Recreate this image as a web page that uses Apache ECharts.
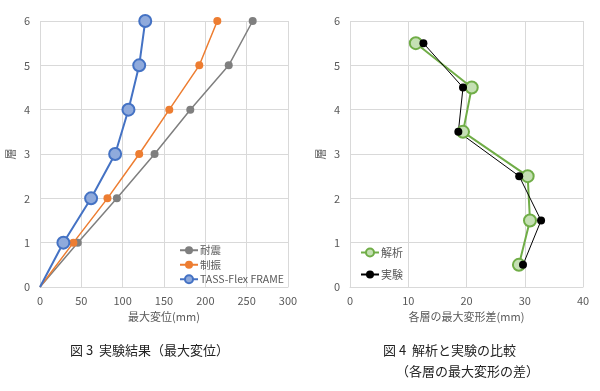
<!DOCTYPE html>
<html><head><meta charset="utf-8">
<script src="https://cdn.jsdelivr.net/npm/echarts@6/dist/echarts.min.js"></script>
<style>html,body{margin:0;padding:0;background:#fff}#c{width:600px;height:391px}</style>
</head><body><div id="c"></div>
<script>
// Fig 3: max displacement per floor
const floors = [0, 1, 2, 3, 4, 5, 6];
const taishin = [0, 45.7, 93, 138.6, 181.8, 228.3, 257.3];   // 耐震
const seishin = [0, 40.4, 81.6, 120, 156.4, 192.7, 214.5];   // 制振
const tass = [0, 28.3, 61.8, 90.9, 107, 120, 127.3];         // TASS-Flex FRAME
// Fig 4: story drift comparison
const storyPos = [0.5, 1.5, 2.5, 3.5, 4.5, 5.5];
const kaiseki = [29.0, 30.9, 30.5, 19.4, 20.9, 11.3];        // 解析
const jikken = [29.7, 32.8, 29.05, 18.6, 19.4, 12.6];        // 実験
const xTicks1 = [0, 50, 100, 150, 200, 250, 300];
const xTicks2 = [0, 10, 20, 30, 40];

// origin point drawn without a marker (line starts at 0,0)
const pair = (xs, ys) => xs.map((v, i) => (v === 0 && ys[i] === 0) ? {value: [v, ys[i]], symbol: 'none'} : [v, ys[i]]);
const font = "'Noto Sans CJK JP', 'Noto Sans', sans-serif";
const tickColor = '#595959';
const gridColor = '#D9D9D9';

const chart = echarts.init(document.getElementById('c'), null, {renderer: 'canvas'});
const xAxisBase = (gi, ticks, name) => ({
  gridIndex: gi, type: 'value', min: ticks[0], max: ticks[ticks.length - 1], interval: ticks[1] - ticks[0],
  name: name, nameLocation: 'middle', nameGap: 20,
  nameTextStyle: {color: tickColor, fontSize: 11, fontFamily: font},
  axisLine: {show: true, lineStyle: {color: gridColor}},
  axisTick: {show: false},
  axisLabel: {color: tickColor, fontSize: 11, fontFamily: font, margin: 8},
  splitLine: {show: true, lineStyle: {color: gridColor}}
});
const yAxisBase = (gi) => ({
  gridIndex: gi, type: 'value', min: 0, max: 6, interval: 1,
  name: '層', nameLocation: 'middle', nameGap: 24, nameRotate: 90,
  nameTextStyle: {color: tickColor, fontSize: 11, fontFamily: font},
  axisLine: {show: false}, axisTick: {show: false},
  axisLabel: {color: tickColor, fontSize: 11, fontFamily: font, margin: 10},
  splitLine: {show: true, lineStyle: {color: gridColor}}
});

chart.setOption({
  backgroundColor: '#fff',
  animation: false,
  grid: [
    {left: 40, top: 21, width: 248, height: 266},
    {left: 350, top: 21, width: 233, height: 266}
  ],
  xAxis: [xAxisBase(0, xTicks1, '最大変位(mm)'), xAxisBase(1, xTicks2, '各層の最大変形差(mm)')],
  yAxis: [yAxisBase(0), yAxisBase(1)],
  legend: [
    {
      data: ['耐震', '制振', 'TASS-Flex FRAME'], orient: 'vertical',
      left: 174, top: 240, itemWidth: 18, itemHeight: 10, itemGap: 4,
      textStyle: {color: tickColor, fontSize: 10.5, fontFamily: font, padding: [0,0,0,-3]}
    },
    {
      data: ['解析', '実験'], orient: 'vertical',
      left: 355, top: 242, itemWidth: 18, itemHeight: 10, itemGap: 11,
      textStyle: {color: tickColor, fontSize: 11, fontFamily: font, padding: [0,0,0,-3]}
    }
  ],
  series: [
    {name: '耐震', type: 'line', xAxisIndex: 0, yAxisIndex: 0, data: pair(taishin, floors),
      symbol: 'circle', symbolSize: 8, lineStyle: {color: '#7F7F7F', width: 1.5},
      itemStyle: {color: '#7F7F7F'}},
    {name: '制振', type: 'line', xAxisIndex: 0, yAxisIndex: 0, data: pair(seishin, floors),
      symbol: 'circle', symbolSize: 8, lineStyle: {color: '#ED7D31', width: 1.5},
      itemStyle: {color: '#ED7D31'}},
    {name: 'TASS-Flex FRAME', type: 'line', xAxisIndex: 0, yAxisIndex: 0, data: pair(tass, floors),
      symbol: 'circle', symbolSize: 12, lineStyle: {color: '#4472C4', width: 2},
      itemStyle: {color: '#8FAADC', borderColor: '#4472C4', borderWidth: 2}},
    {name: '解析', type: 'line', xAxisIndex: 1, yAxisIndex: 1, data: pair(kaiseki, storyPos),
      symbol: 'circle', symbolSize: 12, lineStyle: {color: '#70AD47', width: 2},
      itemStyle: {color: '#C5E0B4', borderColor: '#70AD47', borderWidth: 2}},
    {name: '実験', type: 'line', xAxisIndex: 1, yAxisIndex: 1, data: pair(jikken, storyPos),
      symbol: 'circle', symbolSize: 8, lineStyle: {color: '#000000', width: 1},
      itemStyle: {color: '#000000'}}
  ],
  graphic: [
    {type: 'text', left: 70, top: 344, style: {text: '図 3  実験結果（最大変位）', fill: '#222', font: '13px ' + font}},
    {type: 'text', left: 383, top: 344, style: {text: '図 4  解析と実験の比較', fill: '#222', font: '13px ' + font}},
    {type: 'text', left: 396, top: 365, style: {text: '（各層の最大変形の差）', fill: '#222', font: '13px ' + font}}
  ]
});
</script></body></html>
